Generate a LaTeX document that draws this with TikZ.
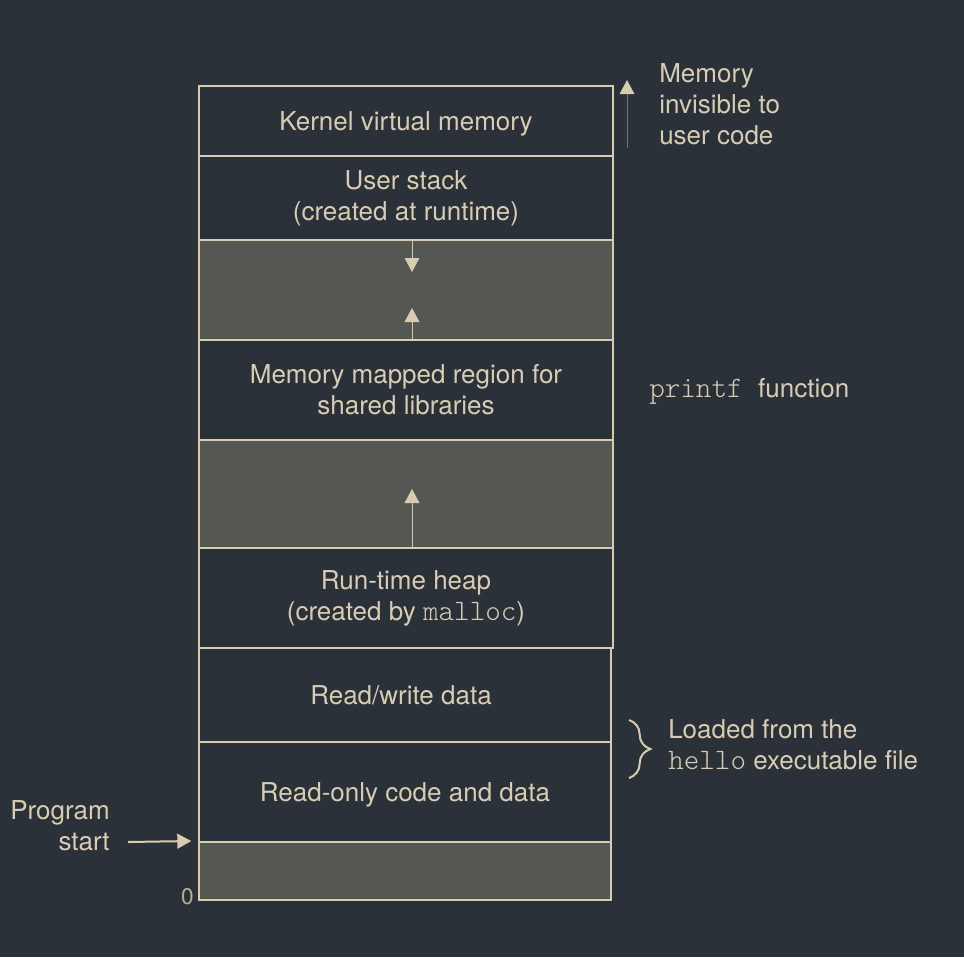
\documentclass[tikz,border=0pt]{standalone}
\usepackage{fontspec}
\setmainfont{TeX Gyre Heros}
\setmonofont[Scale=1.14]{lmmonolt10-regular.otf}
\usetikzlibrary{arrows.meta,positioning,calc,decorations.pathreplacing}
\definecolor{bgcol}{HTML}{2B3139}
\definecolor{linecol}{HTML}{D8CCB0}
\definecolor{gapcol}{HTML}{555753}
\definecolor{txtcol}{HTML}{D8CCB2}
\definecolor{dimcol}{HTML}{77746C}

\begin{document}
\begin{tikzpicture}[x=0.75pt,y=-0.75pt,
    membox/.style={rectangle,draw=linecol,line width=1.5pt,minimum width=310.5pt,inner sep=0pt,
        text=txtcol,align=center,font=\fontsize{19.5}{23.3}\selectfont},
    gapbox/.style={membox,fill=gapcol},
    onerow/.style={text height=14pt,text depth=0pt},
    note/.style={text=txtcol,inner sep=0pt,font=\fontsize{19.5}{23.3}\selectfont},
    growarrow/.style={-{Triangle[length=10.5pt,width=11pt,color=linecol]},draw=linecol,line width=0.75pt}]
    \fill[bgcol] (0,0) rectangle (964,957);
    \useasboundingbox (0,0) rectangle (964,957);

    \node[membox,onerow,minimum height=52.5pt] (kernel) at (406,121) {Kernel virtual memory};
    \node[membox,minimum height=63pt] (ustack) at (406,198) {User stack\\(created at runtime)};
    \node[gapbox,minimum height=75pt] (gapa) at (406,290) {};
    \node[membox,minimum height=75pt] (mmap) at (406,390) {Memory mapped region for\\shared libraries};
    \node[gapbox,minimum height=81pt] (gapb) at (406,494) {};
    \node[membox,minimum height=75pt] (heap) at (406,598) {Run-time heap\\(created by \texttt{malloc})};
    \node[membox,onerow,minimum width=309pt,minimum height=70.5pt] (rwdata) at (405,695) {\hspace*{-6pt}Read/write data};
    \node[membox,onerow,minimum width=309pt,minimum height=75pt] (rodata) at (405,792) {Read-only code and data};
    \node[gapbox,minimum width=309pt,minimum height=43.5pt] (bottom) at (405,871) {};

    \coordinate (stacktip) at (412,272);
    \coordinate (mmaptip) at (412,308);
    \coordinate (heaptip) at (412,489);
    \draw[growarrow] (gapa.north -| stacktip) -- (stacktip);
    \draw[growarrow] (gapa.south -| mmaptip) -- (mmaptip);
    \draw[growarrow] (gapb.south -| heaptip) -- (heaptip);

    \coordinate (kbot) at (627,148);
    \coordinate (ktop) at (627,80);
    \draw[growarrow,draw=dimcol] (kbot) -- (ktop);
    \node[note,anchor=west,align=left] (invis) at (659,104) {Memory\\invisible to\\user code};

    \node[note,onerow,anchor=west] (printf) at (649,388) {\texttt{printf\ }function};

    \draw[linecol,line width=1.5pt,decorate,decoration={brace,amplitude=16pt}] (629,720) -- (629,778);
    \node[note,anchor=west,align=left] (loaded) at (668,745) {Loaded from the\\\texttt{hello} executable file};

    \node[note,anchor=east,align=right] (start) at (110,826) {Program\\start};
    \coordinate (starttail) at (128,842);
    \draw[growarrow,line width=1.5pt] (starttail) -- ([xshift=-5pt]bottom.north west);

    \node[note,text=txtcol!80!bgcol,font=\fontsize{17}{20}\selectfont,anchor=base east] (zero) at ($(bottom.south west)+(-4,3)$) {0};
\end{tikzpicture}
\end{document}
